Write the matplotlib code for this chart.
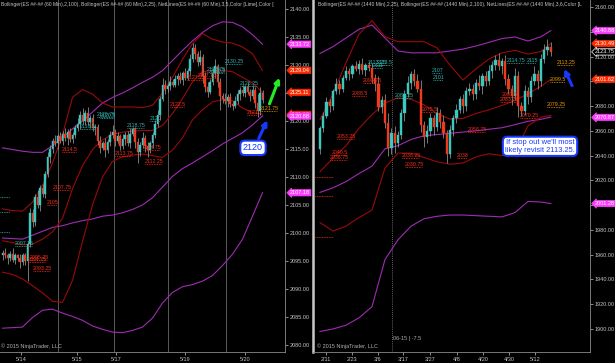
import matplotlib
matplotlib.use('Agg')
import matplotlib.pyplot as plt
import matplotlib.transforms as mtransforms
from matplotlib.patches import Rectangle
from matplotlib.lines import Line2D

plt.rcParams['font.family'] = ['Liberation Sans', 'DejaVu Sans']

UP = '#3cc8bf'
DN = '#f03a1c'
WICK = '#a8a8a8'
RED_LINE = '#9a0a0a'
PURPLE = '#a02cb4'
CYAN_TXT = '#2fb3ad'
RED_TXT = '#ff2a14'
ORANGE_TXT = '#e89a00'
MAGENTA = '#ff3cff'
TAG_RED = '#ff2a00'
GRID = '#5a5a5a'
TXT = '#c4c4c4'

# ---------------- 60 min chart (left) ----------------
open_first_60 = 2096.0
closes_60 = [2096.5, 2096.0, 2095.5, 2096.25, 2095.25, 2096.0, 2095.5, 2094.75, 2096.0, 2095.0,
             2098.0, 2103.5, 2102.0, 2106.5, 2105.0, 2108.0, 2107.0, 2110.5, 2113.5, 2115.0,
             2116.5, 2116.0, 2117.25, 2116.5, 2117.75, 2117.0, 2118.0, 2116.75, 2117.5, 2118.75,
             2119.5, 2121.0, 2120.0, 2121.5, 2119.75, 2120.5, 2118.75, 2119.0, 2116.5, 2115.25,
             2116.0, 2114.75, 2116.25, 2117.5, 2118.0, 2116.5, 2117.25, 2115.5, 2116.75, 2117.5,
             2116.0, 2117.75, 2118.5, 2116.25, 2114.5, 2115.75, 2117.0, 2115.5, 2114.75, 2116.0,
             2117.5, 2119.5, 2121.0, 2124.0, 2126.5, 2125.75, 2126.25, 2127.0, 2126.5, 2127.5,
             2128.0, 2127.25, 2128.5, 2127.75, 2129.0, 2131.0, 2133.0, 2132.0, 2130.5, 2131.5,
             2128.0, 2126.0, 2125.25, 2127.0, 2128.5, 2129.75, 2127.0, 2124.5, 2124.0, 2123.5,
             2124.25, 2123.0, 2122.75, 2123.5, 2124.75, 2125.5, 2125.0, 2126.0, 2125.25, 2124.5,
             2125.5, 2123.25, 2121.75, 2125.0, 2123.75]
up_wick_60 = [0.5, 0.75, 0.5, 0.5, 1.0, 0.5, 0.25, 0.75, 0.5, 0.5,
              0.5, 1.0, 0.75, 0.5, 1.25, 0.5, 0.75, 0.5, 1.0, 0.75,
              0.5, 1.0, 0.5, 0.75, 0.5, 1.0, 0.5, 0.75, 0.5, 0.5,
              1.0, 0.75, 1.25, 0.5, 1.0, 0.5, 0.75, 0.5, 0.5, 0.75,
              0.5, 1.0, 0.5, 0.75, 1.25, 0.5, 0.75, 0.5, 1.0, 0.5,
              0.75, 1.0, 0.5, 0.5, 0.75, 0.5, 1.0, 0.5, 0.75, 0.5,
              0.5, 0.75, 1.0, 0.5, 1.25, 0.75, 0.5, 1.0, 0.5, 0.75,
              0.5, 0.75, 0.5, 1.0, 0.5, 1.0, 1.0, 0.75, 0.5, 1.25,
              0.5, 0.75, 1.0, 0.5, 0.75, 1.25, 0.5, 0.75, 0.5, 1.0,
              0.5, 0.75, 0.5, 1.0, 0.75, 0.5, 1.0, 0.5, 0.75, 0.5,
              1.0, 0.5, 1.5, 1.0, 0.5]
dn_wick_60 = [0.75, 0.5, 1.0, 0.5, 0.5, 0.75, 0.5, 1.0, 0.5, 0.75,
              3.5, 0.5, 1.0, 0.75, 0.5, 1.0, 0.5, 0.75, 0.5, 1.0,
              0.75, 0.5, 1.0, 0.5, 0.75, 0.5, 1.25, 0.5, 0.75, 0.5,
              0.5, 1.0, 0.5, 0.75, 0.5, 1.0, 0.5, 1.25, 0.75, 1.0,
              0.5, 1.25, 0.5, 0.75, 0.5, 1.0, 0.5, 0.75, 0.5, 1.0,
              0.5, 0.75, 0.5, 1.0, 2.0, 0.75, 0.5, 1.0, 1.25, 0.5,
              0.75, 0.5, 0.5, 0.75, 0.5, 1.0, 0.5, 0.75, 0.5, 0.5,
              1.0, 0.5, 0.75, 0.5, 0.5, 0.75, 0.5, 1.0, 0.75, 0.5,
              1.25, 0.75, 1.0, 0.5, 0.5, 0.75, 1.0, 2.5, 0.75, 0.5,
              1.0, 0.5, 0.75, 0.5, 0.5, 1.0, 0.5, 0.75, 0.5, 1.0,
              0.5, 1.0, 1.0, 0.75, 0.5]

band_x_60 = list(range(0, 105, 4))
bb25_up_60 = [2104.3, 2104.0, 2103.9, 2105.5, 2108.5, 2112.5, 2117.5, 2124.2, 2125.6, 2124.8, 2123.2, 2122.5, 2122.5, 2122.5,
              2122.4, 2122.8, 2125.0, 2127.8, 2131.0, 2133.8, 2135.6, 2134.6, 2134.1, 2133.9, 2133.2, 2132.0, 2129.0]
bb25_mid_60 = [2098.6, 2098.3, 2097.9, 2098.0, 2098.9, 2100.2, 2102.6, 2107.9, 2112.0, 2114.9, 2116.6, 2117.6, 2118.0, 2118.2,
               2118.3, 2118.3, 2119.2, 2121.3, 2124.0, 2127.0, 2128.8, 2129.0, 2129.0, 2128.8, 2127.8, 2126.8, 2125.1]
bb25_lo_60 = [2093.0, 2092.6, 2091.8, 2090.6, 2089.3, 2087.8, 2087.6, 2091.5, 2098.5, 2105.0, 2110.0, 2112.8, 2113.6, 2113.9,
              2114.1, 2113.8, 2113.5, 2114.8, 2117.0, 2120.2, 2122.0, 2123.4, 2123.8, 2123.6, 2122.3, 2121.5, 2121.2]
bb100_up_60 = [2115.2, 2114.9, 2114.6, 2114.4, 2114.4, 2115.6, 2117.0, 2118.6, 2120.0, 2121.6, 2123.2, 2124.2, 2125.0, 2125.9,
               2126.9, 2127.8, 2129.0, 2130.8, 2132.6, 2134.3, 2135.8, 2137.0, 2137.7, 2137.6, 2136.8, 2135.4, 2133.7]
bb100_mid_60 = [2099.1, 2099.0, 2098.9, 2099.6, 2100.3, 2101.0, 2101.3, 2101.8, 2102.2, 2102.5, 2103.0, 2103.2, 2103.6, 2104.2,
                2105.0, 2106.3, 2108.2, 2110.1, 2111.5, 2112.5, 2113.6, 2114.7, 2115.9, 2116.9, 2117.9, 2119.3, 2120.9]
bb100_lo_60 = [2083.0, 2083.1, 2083.2, 2084.9, 2086.2, 2086.4, 2085.7, 2085.1, 2084.4, 2083.4, 2082.8, 2082.3, 2082.2, 2082.6,
               2083.2, 2084.8, 2087.5, 2089.4, 2090.4, 2090.8, 2091.4, 2092.4, 2094.2, 2096.2, 2098.9, 2103.0, 2107.2]

dates_60 = ['5/14', '5/15', '5/17', '5/19', '5/20']
date_pos_60 = [7.4, 29.8, 45.4, 73.0, 97.0]
sessions_60 = [22.2, 44.6, 66.2, 89.4]

# (bar, text, colour) -- the label sits on its own price
labels_60 = [(5.0, '2097.75', 'c'), (31.0, '2118.5', 'c'), (37.8, '2120.75', 'c'), (39.0, '2120.5', 'c'),
             (49.8, '2118.75', 'c'), (59.0, '2120', 'c'), (81.8, '2128.75', 'c'), (83.0, '2128.5', 'c'),
             (89.0, '2130.25', 'c'), (95.0, '2126.25', 'c'),
             (23.8, '2114.5', 'r'), (20.2, '2107.75', 'r'), (17.8, '2105', 'r'), (11.0, '2095.25', 'r'),
             (10.2, '2094.75', 'r'), (12.2, '2093.25', 'r'), (45.0, '2113.75', 'r'), (56.2, '2114.75', 'r'),
             (57.0, '2112.25', 'r'), (67.0, '2122.5', 'r'), (78.2, '2127.75', 'r'), (73.8, '2127.25', 'r'),
             (97.8, '2121', 'r'), (103.0, '2121.75', 'o')]
edge_lines_60 = [(2106.5, 'c'), (2103.75, 'c'), (2100.25, 'c')]

tags_60 = [(2133.72, 'm'), (2129.04, 'r'), (2125.11, 'r'), (2121.18, 'r'), (2120.88, 'm'), (2107.18, 'm')]

# ---------------- daily chart (right) ----------------
open_first_d = 2045.0
closes_d = [2062, 2072, 2083, 2080, 2092, 2098, 2094, 2103, 2108, 2106,
            2112, 2110, 2114, 2109, 2113, 2111, 2103, 2098, 2079, 2085,
            2066, 2046, 2058, 2050, 2057, 2074, 2090, 2099, 2106, 2100,
            2094, 2065, 2055, 2060, 2070, 2063, 2074, 2067, 2058, 2041,
            2061, 2070, 2077, 2086, 2080, 2092, 2094, 2090, 2099, 2096,
            2104, 2100, 2108, 2113, 2117, 2112, 2116, 2102, 2094, 2088,
            2104, 2080, 2076, 2092, 2087, 2100, 2106, 2100, 2118, 2125,
            2128, 2123.75]
up_wick_d = [2, 3, 4, 3, 2, 5, 3, 2, 4, 3, 2, 4, 3, 5, 2, 3, 4, 3, 6, 3,
             5, 8, 4, 6, 3, 4, 3, 5, 2, 4, 6, 7, 3, 5, 4, 3, 5, 4, 6, 3,
             4, 3, 5, 2, 4, 3, 5, 4, 3, 6, 3, 4, 5, 3, 4, 6, 3, 5, 4, 3,
             7, 4, 3, 5, 3, 4, 6, 3, 4, 5, 6, 4]
dn_wick_d = [4, 3, 2, 5, 3, 2, 4, 3, 2, 5, 3, 2, 4, 3, 5, 3, 4, 6, 3, 5,
             4, 6, 5, 8, 3, 4, 6, 3, 5, 4, 3, 6, 8, 5, 4, 6, 3, 5, 4, 7,
             3, 5, 4, 3, 6, 4, 3, 5, 4, 3, 6, 4, 3, 5, 4, 3, 6, 5, 4, 7,
             3, 9, 4, 3, 5, 4, 3, 6, 4, 3, 4, 3]

band_x_d = list(range(0, 69, 4)) + [71]
bb25_up_d = [2069, 2090, 2115, 2138, 2149, 2136, 2132, 2132, 2132, 2127, 2113, 2101, 2110, 2118, 2123, 2125, 2122, 2124, 2130.5]
bb25_mid_d = [2027, 2038, 2048, 2062, 2073, 2082.5, 2086.6, 2085.5, 2081, 2074, 2069.5, 2070, 2074, 2077, 2080.5, 2084.5,
              2090, 2096, 2101.6]
bb25_lo_d = [1986, 1979, 1983, 1990, 1996, 2030, 2042, 2042, 2038.5, 2035, 2033, 2034, 2039, 2041.5, 2040, 2043, 2064, 2071,
             2072.5]
bb100_up_d = [2122.5, 2128, 2135, 2142, 2145.5, 2135, 2124.5, 2123, 2123, 2123, 2124.5, 2126, 2128.5, 2131.5, 2134.5, 2135.8,
              2132.5, 2136, 2140.9]
bb100_mid_d = [2010.3, 2014, 2019, 2025.5, 2031.5, 2045.5, 2048, 2053, 2056, 2057, 2058, 2059, 2060, 2061.3, 2062.5, 2065,
               2067.7, 2069.3, 2071.1]
bb100_lo_d = [1898, 1900, 1903, 1909, 1918, 1956, 1972, 1983, 1989, 1991, 1992, 1992, 1991.5, 1991, 1990.5, 1994, 2003,
              2002.5, 2001.3]

dates_d = ['2/11', '2/23', '3/6', '3/17', '3/27', '4/8', '4/20', '4/30', '5/12']
date_pos_d = [1.85, 9.85, 17.8, 25.5, 33.8, 42.2, 50.2, 58.2, 66.2]
rollover_d = 22.2

labels_d = [(14.8, '2113.25', 'c'), (17.5, '2113.5', 'c'), (16.3, '2111', 'c'), (34.5, '2107', 'c'), (34.8, '2101', 'c'),
            (23.0, '2086.25', 'c'), (57.5, '2114.75', 'c'), (63.5, '2115', 'c'),
            (13.2, '2098.75', 'r'), (9.8, '2088.5', 'r'), (5.2, '2053.25', 'r'), (3.7, '2040.5', 'r'),
            (3.1, '2036.75', 'r'), (31.4, '2075.5', 'r'), (25.2, '2038.25', 'r'), (26.2, '2030.75', 'r'),
            (42.2, '2038', 'r'), (45.5, '2058.75', 'r'), (56.0, '2087.5', 'r'), (55.4, '2083.25', 'r'),
            (61.5, '2070.25', 'r'), (72.9, '2113.25', 'o'), (70.8, '2099.5', 'o'), (69.8, '2079.25', 'o')]
edge_lines_d = [(2022.9, 'r'), (2007.3, 'r'), (1974.5, 'r')]

tags_d = [(2140.88, 'm'), (2130.49, 'r'), (2123.75, 'k'), (2101.62, 'r'), (2070.87, 'm'), (2001.28, 'm')]

TXT_COL = {'c': CYAN_TXT, 'r': RED_TXT, 'o': ORANGE_TXT}


def draw_candles(ax, first_open, closes, up_w, dn_w, width):
    opens = [first_open] + closes[:-1]
    for i, (o, c, uw, dw) in enumerate(zip(opens, closes, up_w, dn_w)):
        ax.vlines(i, min(o, c) - dw, max(o, c) + uw, color=WICK, lw=0.5, zorder=3)
        col = UP if c > o else DN
        h = max(abs(c - o), 0.08)
        ax.add_patch(Rectangle((i - width / 2, min(o, c)), width, h, fc=col, ec=col, lw=0.3, zorder=4))


def draw_bands(ax, xs, up, mid, lo, col):
    for ys in (up, mid, lo):
        ax.plot(xs, ys, color=col, lw=0.8, zorder=2)


def net_label(ax, x, val, col, char_w, fs=3.8):
    y = float(val)
    ax.text(x, y, val, fontsize=fs, color=TXT_COL[col], ha='left', va='bottom', zorder=6)
    ax.plot([x, x + len(val) * char_w], [y, y], color=TXT_COL[col], lw=0.6, ls=(0, (1, 1)), zorder=6)


def tag(ax, y, kind):
    tr = mtransforms.blended_transform_factory(ax.transAxes, ax.transData)
    if kind == 'm':
        fc, ec, tc = MAGENTA, MAGENTA, 'white'
    elif kind == 'r':
        fc, ec, tc = TAG_RED, TAG_RED, 'white'
    else:
        fc, ec, tc = 'black', 'white', 'white'
    ax.text(1.018, y, '%.2f' % y, transform=tr, fontsize=4, color=tc, va='center', ha='left',
            bbox=dict(boxstyle='larrow,pad=0.12', fc=fc, ec=ec, lw=0.5), clip_on=False, zorder=10)


def style_axes(ax, yticks):
    ax.set_facecolor('black')
    ax.yaxis.tick_right()
    ax.set_yticks(yticks)
    ax.set_yticklabels(['%.2f' % v for v in yticks])
    ax.tick_params(axis='both', colors=TXT, labelsize=4, length=2, width=0.5, pad=1.5)
    for s in ('top', 'left'):
        ax.spines[s].set_visible(False)
    for s in ('right', 'bottom'):
        ax.spines[s].set_color('#8a8a8a')
        ax.spines[s].set_linewidth(0.6)


fig = plt.figure(figsize=(6.15, 3.63), dpi=100, facecolor='black')

# ---------- left panel ----------
axL = fig.add_axes([0.0, 11 / 363, 285 / 615, 352 / 363])
style_axes(axL, list(range(2080, 2141, 5)))
axL.set_xlim(-1, 113)
axL.set_ylim(2078.75, 2141.6)
axL.set_xticks(date_pos_60)
axL.set_xticklabels(dates_60)
for xs in sessions_60:
    axL.axvline(xs, color=GRID, lw=0.7, zorder=1)
draw_bands(axL, band_x_60, bb100_up_60, bb100_mid_60, bb100_lo_60, PURPLE)
draw_bands(axL, band_x_60, bb25_up_60, bb25_mid_60, bb25_lo_60, RED_LINE)
draw_candles(axL, open_first_60, closes_60, up_wick_60, dn_wick_60, 0.6)
for x, val, col in labels_60:
    net_label(axL, x, val, col, 0.95)
for y, col in edge_lines_60:
    axL.plot([-1, 3], [y, y], color=TXT_COL[col], lw=0.6, ls=(0, (1, 1)))
for y, kind in tags_60:
    tag(axL, y, kind)

# annotations
axL.annotate('', xy=(106.4, 2120.6), xytext=(102.0, 2116.4),
             arrowprops=dict(arrowstyle='-|>', color='#1638ff', lw=2.2, mutation_scale=7), zorder=9)
axL.annotate('', xy=(111.2, 2128.2), xytext=(106.4, 2122.6),
             arrowprops=dict(arrowstyle='-|>', color='#22ee22', lw=2.2, mutation_scale=7), zorder=9)
axL.text(100.2, 2115.2, '2120', fontsize=6.5, color='#1638ff', ha='center', va='center', zorder=9,
         bbox=dict(boxstyle='round,pad=0.3,rounding_size=0.5', fc='white', ec='#1638ff', lw=1.5))
axL.text(0.005, 0.008, '\u00a9 2015 NinjaTrader, LLC', transform=axL.transAxes, fontsize=4,
         color='#b0b0b0', ha='left', va='bottom')

# ---------- right panel ----------
axR = fig.add_axes([313 / 615, 11 / 363, 277 / 615, 352 / 363])
style_axes(axR, list(range(1900, 2161, 20)))
axR.spines['left'].set_visible(True)
axR.spines['left'].set_color('#c8c8c8')
axR.spines['left'].set_linewidth(1.8)
axR.set_xlim(-2.15, 83.08)
axR.set_ylim(1881.4, 2165.65)
axR.set_xticks(date_pos_d)
axR.set_xticklabels(dates_d)
axR.axvline(rollover_d, color='#8a8a8a', lw=0.6, ls=(0, (1, 1.5)), zorder=1)
draw_bands(axR, band_x_d, bb100_up_d, bb100_mid_d, bb100_lo_d, PURPLE)
draw_bands(axR, band_x_d, bb25_up_d, bb25_mid_d, bb25_lo_d, RED_LINE)
draw_candles(axR, open_first_d, closes_d, up_wick_d, dn_wick_d, 0.68)
for x, val, col in labels_d:
    net_label(axR, x, val, col, 0.74)
for y, col in edge_lines_d:
    axR.plot([-1.5, 4.0], [y, y], color=TXT_COL[col], lw=0.6, ls=(0, (1, 1)))
for y, kind in tags_d:
    tag(axR, y, kind)

axR.annotate('', xy=(74.8, 2112.0), xytext=(77.9, 2094.5),
             arrowprops=dict(arrowstyle='-|>', color='#1638ff', lw=2.2, mutation_scale=7), zorder=9)
axR.text(67.7, 2047.5, "If stop out we'll most\nlikely revisit 2113.25.", fontsize=5.4, color='#1638ff',
         ha='center', va='center', linespacing=1.15, zorder=9,
         bbox=dict(boxstyle='round,pad=0.3,rounding_size=0.6', fc='white', ec='#1638ff', lw=1.5))
axR.text(0.014, 0.008, '\u00a9 2015 NinjaTrader, LLC', transform=axR.transAxes, fontsize=4,
         color='#b0b0b0', ha='left', va='bottom')
axR.text(0.29, 0.03, '06-15 | -7.5', transform=axR.transAxes, fontsize=4, color='#b0b0b0',
         ha='left', va='bottom')

# indicator captions
fig.text(0.002, 0.995, 'Bollinger(ES ##-## (60 Min),2,100), Bollinger(ES ##-## (60 Min),2,25), '
         'NetLines(ES ##-## (60 Min),3,5,Color [Lime],Color [', fontsize=3.6, color=TXT, ha='left', va='top')
fig.text(318 / 615, 0.995, 'Bollinger(ES ##-## (1440 Min),2,25), Bollinger(ES ##-## (1440 Min),2,100), '
         'NetLines(ES ##-## (1440 Min),3,6,Color [L', fontsize=3.6, color=TXT, ha='left', va='top')

fig.savefig('out.png', dpi=100, facecolor='black')
